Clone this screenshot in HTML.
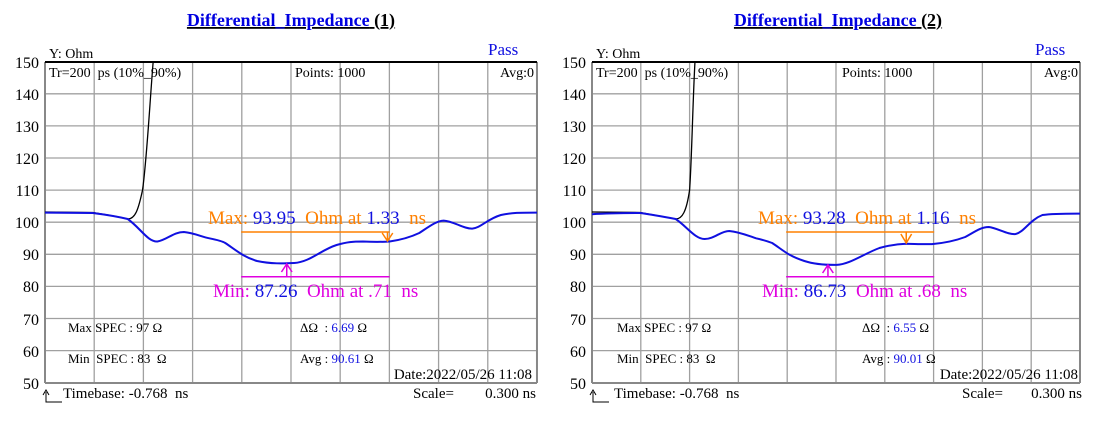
<!DOCTYPE html>
<html><head><meta charset="utf-8"><style>
body{margin:0;background:#fff;width:1110px;height:421px;overflow:hidden}
svg{font-family:"Liberation Serif",serif}
text{white-space:pre}
path{vector-effect:non-scaling-stroke}
</style></head><body>
<svg width="1110" height="421" viewBox="0 0 1110 421" xmlns="http://www.w3.org/2000/svg" xml:space="preserve">
<g transform="translate(45,0) scale(1.0603,1) translate(-45,0)">
<g stroke="#a0a0a0" stroke-width="1.3">
<path d="M91.4 62V383M137.8 62V383M184.2 62V383M230.6 62V383M277 62V383M323.4 62V383M369.8 62V383M416.2 62V383M462.6 62V383"/>
<path d="M45 93.8H509M45 125.9H509M45 158H509M45 190.1H509M45 222.2H509M45 254.3H509M45 286.4H509M45 318.5H509M45 350.6H509"/>
</g>
<g fill="none" stroke="#000" stroke-width="1.3">
<path d="M45 383V62M509 62V383M45 383H509" stroke="#888" stroke-width="2"/>
<path d="M45 62H509" stroke-width="2"/>
<path d="M45 212 L90 212.5 C105 215,115 217,123 219 C130 219,133 210,137 190 C141 160,144 100,147 62"/>
</g>
<path fill="none" stroke="#1010e0" stroke-width="2" d="M45 212.6 L90 213 C105 215,115 217,123 219 C135 228,142 242,151 241.5 C160 240,166 232,176 232 C186 233,193 237,200 238.3 C208 240,212 241,215 243 C225 250,232 257,245 261 C258 264,270 263.5,280 263 C295 262,305 250,320 245 C330 242,335 241.5,345 241.5 C355 242,362 242,370 241.5 C380 240,388 238,398 233 C408 226,414 221,421 220.6 C430 221,440 229,448 228.6 C456 228,462 219,475 215 C485 212.5,495 212.6,509 212.6"/>
<g fill="none" stroke-width="1.5">
<path d="M230 232H370M368 232V241M363 233L368 241L373 233" stroke="#ff8000"/>
<path d="M230 276.8H370M273 276.8V264M268 272L273 264L278 272" stroke="#e000e0"/>
</g>
</g>
<g transform="translate(592,0) scale(1.0725,1) translate(-592,0)">
<g stroke="#a0a0a0" stroke-width="1.3">
<path d="M637.5 62V383M683 62V383M728.5 62V383M774 62V383M819.5 62V383M865 62V383M910.5 62V383M956 62V383M1001.5 62V383"/>
<path d="M592 93.8H1047M592 125.9H1047M592 158H1047M592 190.1H1047M592 222.2H1047M592 254.3H1047M592 286.4H1047M592 318.5H1047M592 350.6H1047"/>
</g>
<g fill="none" stroke="#000" stroke-width="1.3">
<path d="M592 383V62M1047 62V383M592 383H1047" stroke="#888" stroke-width="2"/>
<path d="M592 62H1047" stroke-width="2"/>
<path d="M592 212 L637 212.5 C650 215,660 217,670 219 C676 219,680 212,683 190 C685 160,686 100,688 62"/>
</g>
<path fill="none" stroke="#1010e0" stroke-width="2" d="M592 214.2 C610 213,625 213,637 213 C650 215,660 217,670 219 C680 226,688 239,697 239 C706 239,712 231,720 231 C730 232,738 236,745 238.3 C752 240,755 241,760 243 C770 250,775 256,790 261 C800 264.5,810 265,820 264.9 C832 264.5,845 254,860 248 C870 245,878 244,885 243.8 C895 244,905 244.5,910 244 C920 243,930 241,940 237 C950 231,955 227,962 227 C970 228,980 235,987 234 C995 232,1000 220,1012 215 C1022 213.5,1035 213.6,1047 213.6"/>
<g fill="none" stroke-width="1.5">
<path d="M773 232H911M885 232V243M880 234L885 243L890 234" stroke="#ff8000"/>
<path d="M773 276.8H911M812 276.8V265M807 273L812 265L817 273" stroke="#e000e0"/>
</g>
</g>
<g font-size="16" text-anchor="end" fill="#000">
<text x="39" y="68">150</text><text x="39" y="100">140</text><text x="39" y="132">130</text><text x="39" y="164">120</text><text x="39" y="196">110</text><text x="39" y="228">100</text><text x="39" y="260">90</text><text x="39" y="292">80</text><text x="39" y="325">70</text><text x="39" y="357">60</text><text x="39" y="389">50</text>
<text x="586" y="68">150</text><text x="586" y="100">140</text><text x="586" y="132">130</text><text x="586" y="164">120</text><text x="586" y="196">110</text><text x="586" y="228">100</text><text x="586" y="260">90</text><text x="586" y="292">80</text><text x="586" y="325">70</text><text x="586" y="357">60</text><text x="586" y="389">50</text>
</g>
<g font-size="18" font-weight="bold" text-decoration="underline" text-anchor="middle">
<text x="291" y="26"><tspan fill="#0000e0">Differential_Impedance</tspan><tspan fill="#000"> (1)</tspan></text>
<text x="838" y="26"><tspan fill="#0000e0">Differential_Impedance</tspan><tspan fill="#000"> (2)</tspan></text>
</g>
<g font-size="14" fill="#000">
<text x="49" y="58">Y: Ohm</text><text x="49" y="77">Tr=200  ps (10%_90%)</text><text x="295" y="77">Points: 1000</text><text x="534" y="77" text-anchor="end">Avg:0</text>
<text x="596" y="58">Y: Ohm</text><text x="596" y="77">Tr=200  ps (10%_90%)</text><text x="842" y="77">Points: 1000</text><text x="1078" y="77" text-anchor="end">Avg:0</text>
<text x="488" y="55" font-size="17" fill="#1010e0">Pass</text>
<text x="1035" y="55" font-size="17" fill="#1010e0">Pass</text>
<g font-size="13">
<text x="68" y="332">Max SPEC : 97 Ω</text><text x="68" y="363">Min  SPEC : 83  Ω</text>
<text x="300" y="332">ΔΩ  : <tspan fill="#1010e0">6.69</tspan> Ω</text><text x="300" y="363">Avg : <tspan fill="#1010e0">90.61</tspan> Ω</text>
<text x="617" y="332">Max SPEC : 97 Ω</text><text x="617" y="363">Min  SPEC : 83  Ω</text>
<text x="862" y="332">ΔΩ  : <tspan fill="#1010e0">6.55</tspan> Ω</text><text x="862" y="363">Avg : <tspan fill="#1010e0">90.01</tspan> Ω</text>
</g>
<g font-size="15">
<text x="532" y="379" text-anchor="end">Date:2022/05/26 11:08</text>
<text x="1078" y="379" text-anchor="end">Date:2022/05/26 11:08</text>
<text x="63" y="398">Timebase: -0.768  ns</text><text x="413" y="398">Scale=</text><text x="536" y="398" text-anchor="end">0.300 ns</text>
<text x="614" y="398">Timebase: -0.768  ns</text><text x="962" y="398">Scale=</text><text x="1082" y="398" text-anchor="end">0.300 ns</text>
</g>
</g>
<path d="M46 392V402H62M43 395L46 390L49 395" fill="none" stroke="#000" stroke-width="1"/>
<path d="M593 392V402H609M590 395L593 390L596 395" fill="none" stroke="#000" stroke-width="1"/>
<g font-size="19" fill="#ff8000">
<text x="208" y="224">Max: <tspan fill="#1010e0">93.95</tspan>  Ohm at <tspan fill="#1010e0">1.33</tspan>  ns</text>
<text x="213" y="297" fill="#e000e0">Min: <tspan fill="#1010e0">87.26</tspan>  Ohm at .71  ns</text>
<text x="758" y="224">Max: <tspan fill="#1010e0">93.28</tspan>  Ohm at <tspan fill="#1010e0">1.16</tspan>  ns</text>
<text x="762" y="297" fill="#e000e0">Min: <tspan fill="#1010e0">86.73</tspan>  Ohm at .68  ns</text>
</g>
</svg>
</body></html>
